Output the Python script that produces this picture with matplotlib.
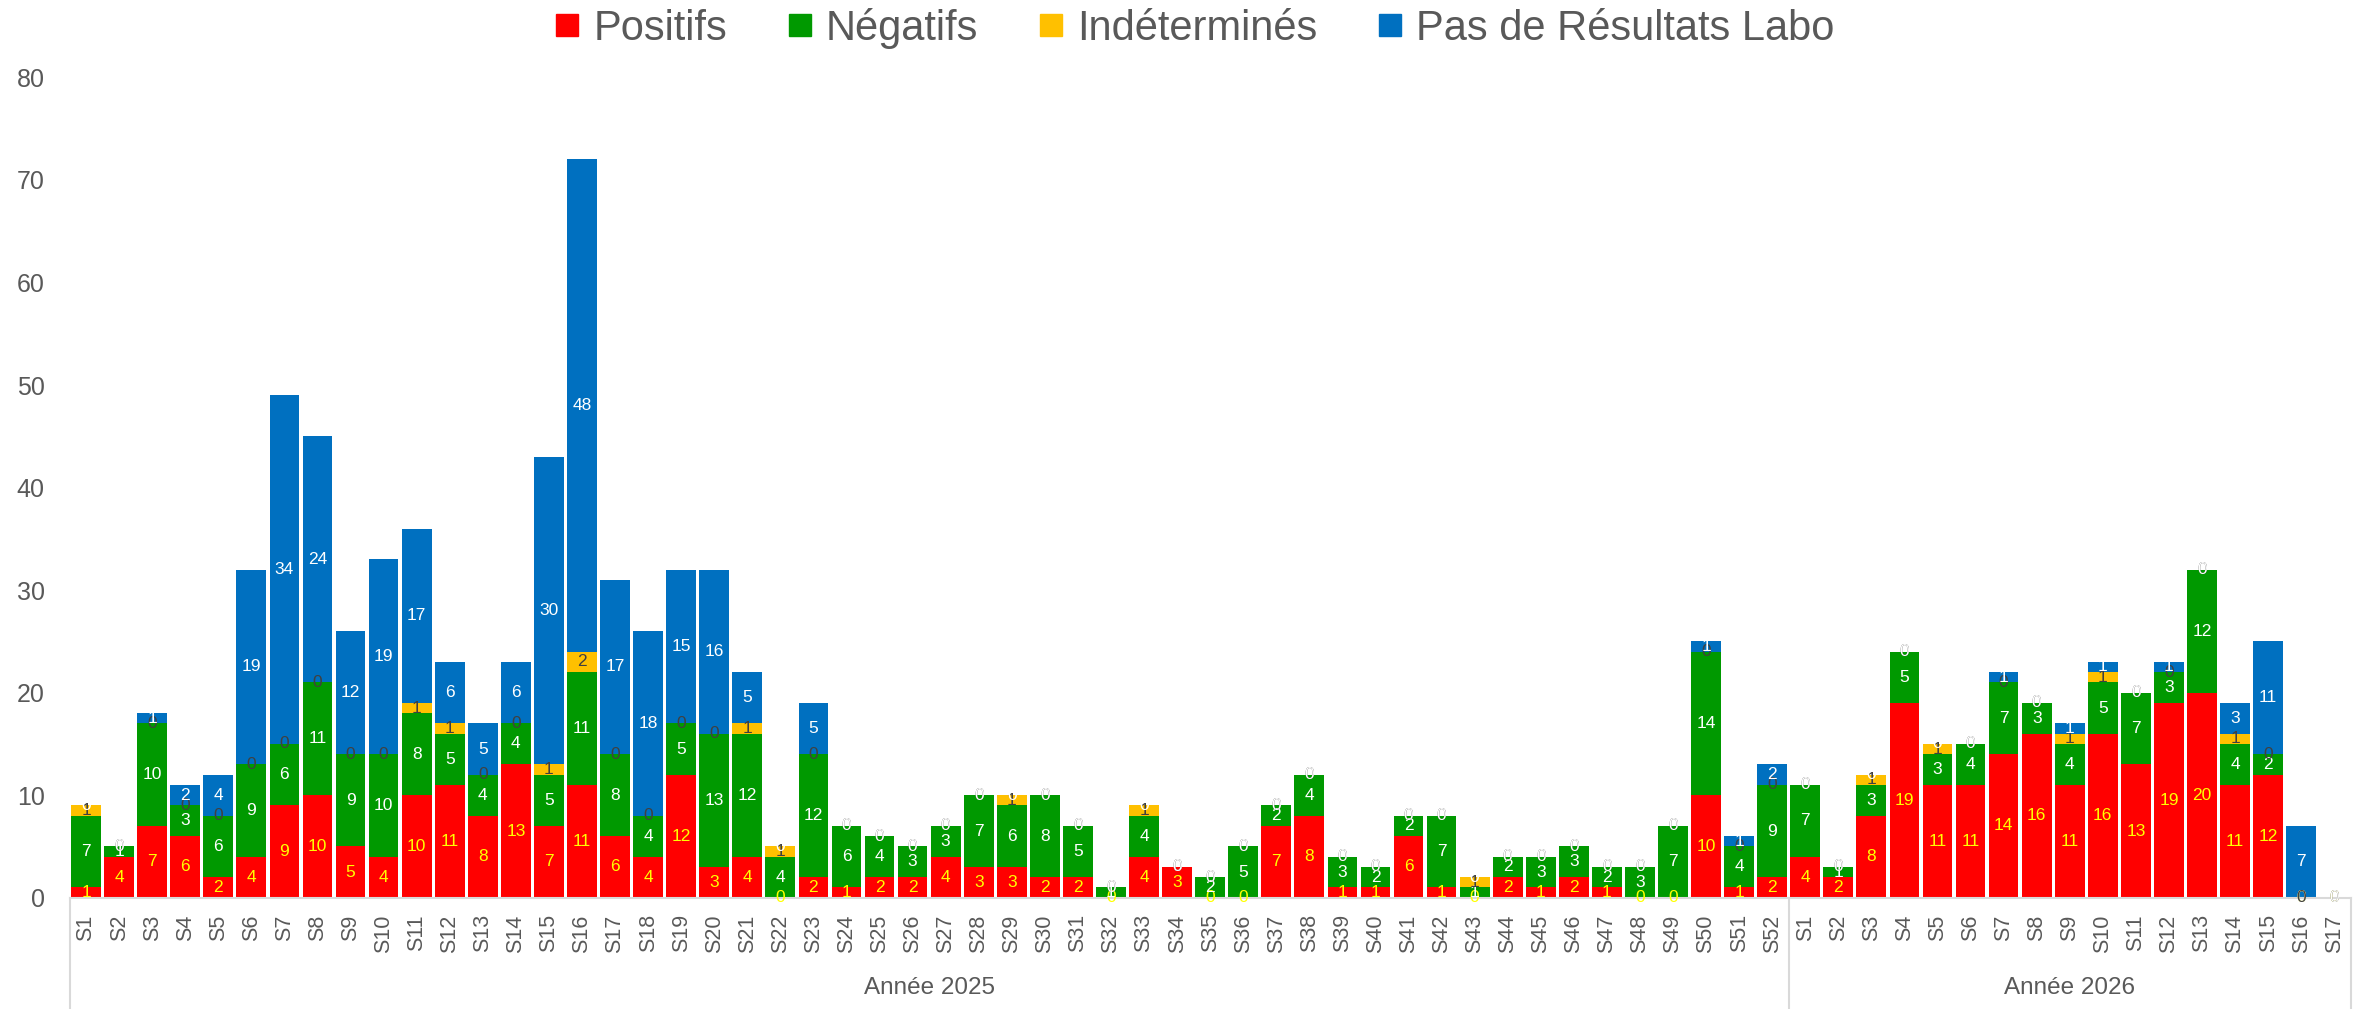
import matplotlib
matplotlib.use("Agg")
import matplotlib.pyplot as plt
import matplotlib.transforms as mtransforms
from matplotlib import font_manager
from matplotlib.lines import Line2D
import numpy as np

# --- data: weekly results ---
weeks_2025 = [f"S{i}" for i in range(1, 53)]
weeks_2026 = [f"S{i}" for i in range(1, 18)]

positifs = [1, 4, 7, 6, 2, 4, 9, 10, 5, 4, 10, 11, 8, 13, 7, 11, 6, 4, 12, 3, 4, 0, 2, 1, 2, 2,
            4, 3, 3, 2, 2, 0, 4, 3, 0, 0, 7, 8, 1, 1, 6, 1, 0, 2, 1, 2, 1, 0, 0, 10, 1, 2,
            4, 2, 8, 19, 11, 11, 14, 16, 11, 16, 13, 19, 20, 11, 12, 0, 0]
negatifs = [7, 1, 10, 3, 6, 9, 6, 11, 9, 10, 8, 5, 4, 4, 5, 11, 8, 4, 5, 13, 12, 4, 12, 6, 4, 3,
            3, 7, 6, 8, 5, 1, 4, 0, 2, 5, 2, 4, 3, 2, 2, 7, 1, 2, 3, 3, 2, 3, 7, 14, 4, 9,
            7, 1, 3, 5, 3, 4, 7, 3, 4, 5, 7, 3, 12, 4, 2, 0, 0]
indetermines = [1, 0, 0, 0, 0, 0, 0, 0, 0, 0, 1, 1, 0, 0, 1, 2, 0, 0, 0, 0, 1, 1, 0, 0, 0, 0,
                0, 0, 1, 0, 0, 0, 1, 0, 0, 0, 0, 0, 0, 0, 0, 0, 1, 0, 0, 0, 0, 0, 0, 0, 0, 0,
                0, 0, 1, 0, 1, 0, 0, 0, 1, 1, 0, 0, 0, 1, 0, 0, 0]
pas_resultats = [0, 0, 1, 2, 4, 19, 34, 24, 12, 19, 17, 6, 5, 6, 30, 48, 17, 18, 15, 16, 5, 0, 5, 0, 0, 0,
                 0, 0, 0, 0, 0, 0, 0, 0, 0, 0, 0, 0, 0, 0, 0, 0, 0, 0, 0, 0, 0, 0, 0, 1, 1, 2,
                 0, 0, 0, 0, 0, 0, 1, 0, 1, 1, 0, 1, 0, 3, 11, 7, 0]

series_names = ["Positifs", "Négatifs", "Indéterminés", "Pas de Résultats Labo"]
colors = ["#FF0000", "#009900", "#FFC000", "#0070C0"]
label_colors = ["#FFFF00", "#FFFFFF", "#404040", "#FFFFFF"]
years = ["Année 2025", "Année 2026"]


def pick_font(candidates):
    for name in candidates:
        try:
            font_manager.findfont(name, fallback_to_default=False)
            return name
        except Exception:
            continue
    return "DejaVu Sans"


font = pick_font(["Liberation Sans", "DejaVu Sans"])
plt.rcParams["font.family"] = [font, "DejaVu Sans"]

labels = weeks_2025 + weeks_2026
x = np.arange(len(labels))
data = [positifs, negatifs, indetermines, pas_resultats]

fig = plt.figure(figsize=(23.64, 10.09), dpi=100)
ax = fig.add_axes([0.0294, 0.1103, 0.965, 0.813])

bottom = np.zeros(len(labels))
for vals, col, lcol in zip(data, colors, label_colors):
    vals = np.array(vals, dtype=float)
    ax.bar(x, vals, bottom=bottom, width=0.9, color=col, linewidth=0)
    for xi, b, v in zip(x, bottom, vals):
        ax.text(xi, b + v / 2, f"{int(v)}", ha="center", va="center",
                color=lcol, fontsize=12.5)
    bottom += vals

ax.set_xlim(-0.5, len(labels) - 0.5)
ax.set_ylim(0, 80)
ax.set_yticks(np.arange(0, 81, 10))
ax.set_xticks(x)
ax.set_xticklabels(labels, rotation=90, fontsize=15.5, color="#595959")
ax.tick_params(axis="x", length=0, pad=12)
ax.tick_params(axis="y", length=0, pad=18, labelsize=18, labelcolor="#595959")

for s in ["top", "right", "left"]:
    ax.spines[s].set_visible(False)
ax.spines["bottom"].set_color("#D9D9D9")
ax.spines["bottom"].set_linewidth(1.5)

# year group separators and labels
trans = mtransforms.blended_transform_factory(ax.transData, ax.transAxes)
n25 = len(weeks_2025)
for xs in [-0.5, n25 - 0.5, len(labels) - 0.5]:
    ax.plot([xs, xs], [0, -0.2], color="#D9D9D9", lw=1.5, transform=trans, clip_on=False)
ax.text((n25 - 1) / 2, -0.110, years[0], transform=trans, ha="center", va="center",
        fontsize=17.5, color="#595959")
ax.text(n25 + (len(weeks_2026) - 1) / 2, -0.110, years[1], transform=trans, ha="center",
        va="center", fontsize=17.5, color="#595959")

handles = [Line2D([], [], marker="s", linestyle="none", markersize=16.5,
                  markerfacecolor=c, markeredgecolor=c) for c in colors]
fig.legend(handles, series_names, loc="center", bbox_to_anchor=(0.5055, 0.972), ncol=4,
           frameon=False, handletextpad=0.36, columnspacing=1.46, handlelength=0.55,
           prop={"size": 30}, labelcolor="#595959")

fig.savefig("out.png", dpi=100)
